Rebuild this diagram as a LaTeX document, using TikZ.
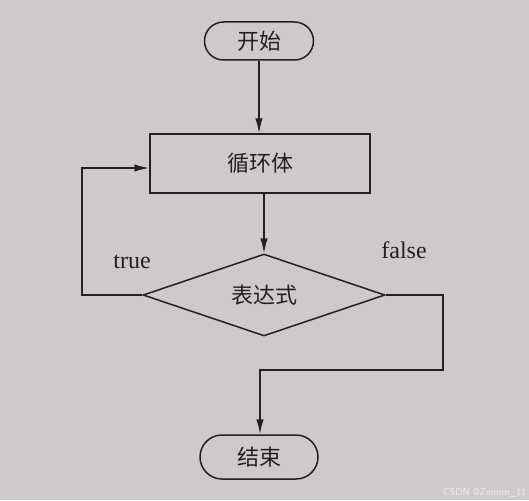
\documentclass[tikz,border=0pt]{standalone}
\usepackage{fontspec}
\setmainfont{Liberation Serif}
\newfontfamily\cjk{Noto Sans CJK SC}[Scale=1]
\usetikzlibrary{arrows.meta,shapes.geometric,calc}
\definecolor{paper}{RGB}{206,202,204}
\definecolor{ink}{RGB}{35,32,34}
\definecolor{wm}{RGB}{240,238,240}
\begin{document}
\begin{tikzpicture}[x=1pt,y=-1pt,
  line width=1.5pt, draw=ink,
  arr/.style={-{Latex[length=15pt,width=7.5pt]}, draw=ink, line width=1.5pt},
  term/.style={draw=ink, rounded corners=19pt, minimum width=109pt, minimum height=38pt, inner sep=0pt, font=\cjk\fontsize{22}{22}\selectfont, text=ink},
  boxnode/.style={draw=ink, minimum width=220pt, minimum height=59pt, inner sep=0pt, font=\cjk\fontsize{22}{22}\selectfont, text=ink},
  decision/.style={draw=ink, diamond, aspect=2.95, minimum width=242pt, minimum height=82pt, inner sep=0pt, font=\cjk\fontsize{22}{22}\selectfont, text=ink},
  lbl/.style={font=\fontsize{24}{24}\selectfont, text=ink, inner sep=0pt}]
\fill[paper] (0,0) rectangle (529,500);
\useasboundingbox (0,0) rectangle (529,500);
\node[term] (start) at (259,41) {开始};
\node[boxnode] (body) at (260,163.5) {循环体};
\node[decision] (cond) at (264,295) {表达式};
\node[term, minimum width=118pt, minimum height=44pt, rounded corners=22pt] (end) at (259,457) {结束};
\coordinate (tl) at (82,295);
\coordinate (tt) at (82,168);
\coordinate (fr) at (443,295);
\coordinate (fb) at (443,370);
\coordinate (fl) at (260,370);
\draw[arr] (start.south) -- (start.south |- body.north);
\draw[arr] (cond.north |- body.south) -- (cond.north);
\draw[arr] (cond.west) -- (tl) -- (tt) -- (tt -| body.west);
\draw[arr] (cond.east) -- (fr) -- (fb) -- (fl) -- (fl |- end.north);
\node[lbl] (t) at (132,262) {true};
\node[lbl] (f) at (404,250) {false};
\node[font=\sffamily\fontsize{10}{10}\selectfont, text=wm, anchor=south east, inner sep=1pt] (w) at (528,499) {CSDN @Zmmm\_11};
\end{tikzpicture}
\end{document}
